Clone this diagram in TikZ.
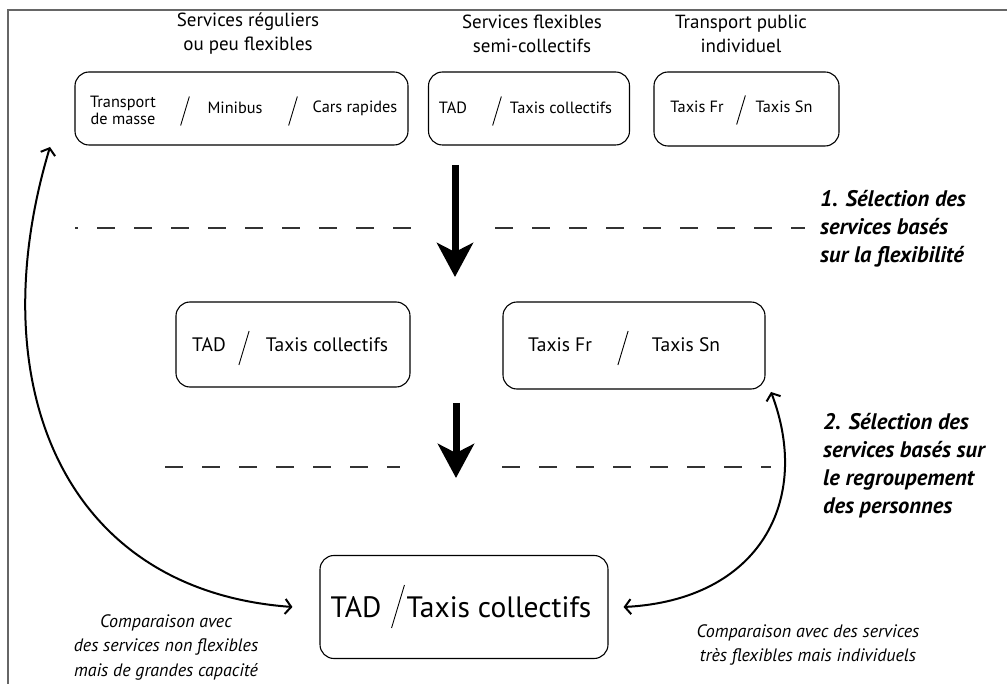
\documentclass[tikz,border=0pt]{standalone}
\usepackage{fontspec}
\setmainfont{PT Sans}
\usetikzlibrary{arrows.meta,positioning}

\newcommand\slashat[3]{\draw[slashline] (#1,#2) ++(-0.15*#3,0.5*#3) -- ++(0.3*#3,-#3);}

\begin{document}
\begin{tikzpicture}[x=1pt,y=-1pt,
    box/.style={draw,rounded corners=14pt,line width=1.1pt,inner sep=0pt},
    item/.style={inner sep=0pt,align=center,font=\fontsize{16.3}{17}\selectfont},
    mid/.style={item,font=\fontsize{19.5}{20}\selectfont},
    big/.style={item,anchor=base,font=\fontsize{29.5}{32}\selectfont},
    head/.style={inner sep=0pt,align=center,font=\fontsize{19}{24}\selectfont},
    stage/.style={inner sep=0pt,align=left,anchor=west,font=\fontsize{22.5}{28}\selectfont\bfseries\itshape},
    note/.style={inner sep=0pt,align=center,font=\fontsize{18}{24.5}\selectfont\itshape},
    slashline/.style={line width=0.9pt},
    sepline/.style={line width=1.3pt,dash pattern=on 18pt off 19pt,black!80},
    bigarrow/.style={line width=7pt,-{Stealth[length=34pt,width=36pt,inset=9pt]}},
    cmparrow/.style={line width=2pt,{Straight Barb[length=6pt,width=15pt]}-{Straight Barb[length=6pt,width=15pt]}}]
  \useasboundingbox (0,0) rectangle (1007,684);
  \draw[black!60,line width=1.2pt] (8,684) -- (8,10) -- (1007,10);

  % categories
  \node[head] (hdrReg) at (248,34) {Services réguliers\\ou peu flexibles};
  \node[head] (hdrFlex) at (532,34) {Services flexibles\\semi-collectifs};
  \node[head] (hdrInd) at (741,34) {Transport public\\individuel};

  % top row
  \node[box,minimum width=333pt,minimum height=73pt] (boxReg) at (241.5,108.5) {};
  \node[box,minimum width=201pt,minimum height=73pt] (boxFlex) at (529,108.5) {};
  \node[box,minimum width=185pt,minimum height=74pt] (boxInd) at (746.5,109) {};
  \node[item] (masse) at (123,110) {Transport\\de masse};
  \node[item] (minibus) at (235,108) {Minibus};
  \node[item] (cars) at (355,108) {Cars rapides};
  \node[item] (tadA) at (453,108) {TAD};
  \node[item] (taxcA) at (561,108) {Taxis collectifs};
  \node[item] (frA) at (697,107) {Taxis Fr};
  \node[item] (snA) at (784,107) {Taxis Sn};
  \slashat{185}{111}{29}
  \slashat{293}{111}{29}
  \slashat{497}{111}{29}
  \slashat{741}{110}{29}

  % middle row
  \node[box,minimum width=234pt,minimum height=85pt] (midFlex) at (293,344.5) {};
  \node[box,minimum width=262pt,minimum height=87pt] (midInd) at (634,345.5) {};
  \node[mid] (tadB) at (209,345) {TAD};
  \node[mid] (taxcB) at (327,345) {Taxis collectifs};
  \node[mid] (frB) at (560,345) {Taxis Fr};
  \node[mid] (snB) at (686,345) {Taxis Sn};
  \slashat{244}{348}{34}
  \slashat{623}{348}{34}

  % final choice
  \node[box,minimum width=288pt,minimum height=103pt] (final) at (464,607) {};
  \node[big] (tadC) at (356,617) {TAD};
  \node[big] (taxcC) at (499,617) {Taxis collectifs};
  \slashat{398}{606.5}{43}

  % selection steps
  \coordinate (stepAtop) at (455,165);
  \coordinate (stepAend) at (455,277);
  \coordinate (stepBtop) at (456,403);
  \coordinate (stepBend) at (456,478);
  \draw[bigarrow] (stepAtop) -- (stepAend);
  \draw[bigarrow] (stepBtop) -- (stepBend);
  \draw[sepline,dash phase=15pt] (75,228) -- (415,228);
  \draw[sepline] (495,228) -- (805,228);
  \draw[sepline] (165,467) -- (400,467);
  \draw[sepline] (502,467) -- (771,467);
  \node[stage] (selA) at (820,229) {1. Sélection des\\services basés\\sur la flexibilité};
  \node[stage] (selB) at (823,466) {2. Sélection des\\services basés sur\\le regroupement\\des personnes};

  % comparisons
  \coordinate (cmpL) at (50,147);
  \coordinate (cmpR) at (771,392);
  \draw[cmparrow] (cmpL) .. controls (-20,380) and (60,590) .. ([xshift=-27pt]final.west);
  \draw[cmparrow] (cmpR) .. controls (812,500) and (760,600) .. ([xshift=15pt]final.east);
  \node[note] (noteL) at (166,647) {Comparaison avec\\des services non flexibles\\mais de grandes capacité};
  \node[note] (noteR) at (808,645) {Comparaison avec des services\\très flexibles mais individuels};
\end{tikzpicture}
\end{document}
